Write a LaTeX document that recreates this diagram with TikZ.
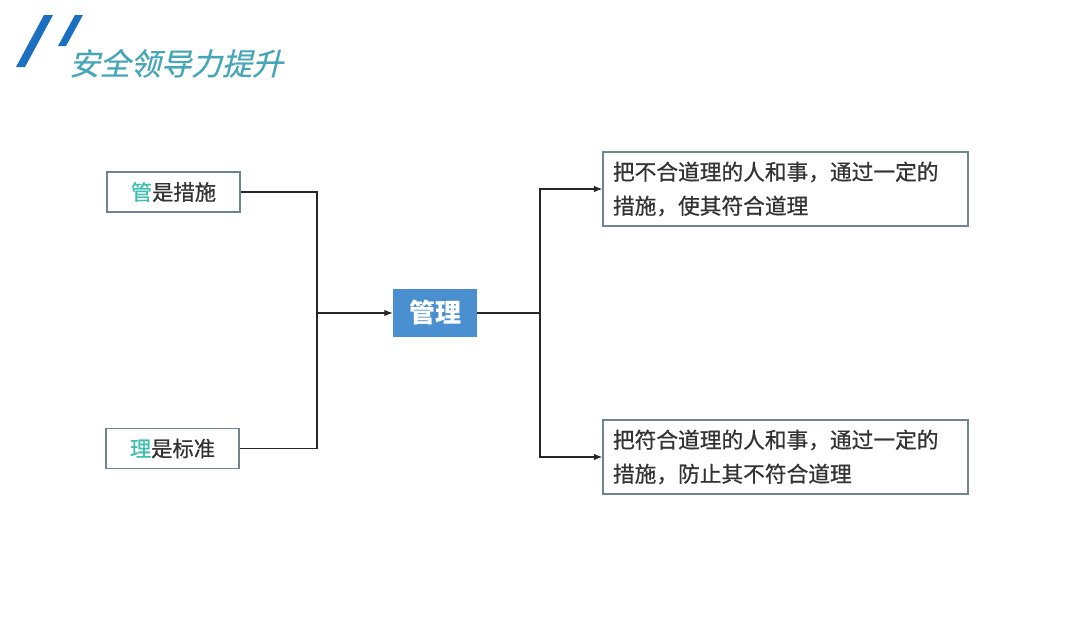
\documentclass[tikz,border=0pt]{standalone}
\usepackage{fontspec}
\setmainfont{Noto Sans CJK SC}
\newfontfamily\medfont[FakeBold=0.7]{Noto Sans CJK SC}
\newfontfamily\titlefont[FakeSlant=0.25,FakeBold=0.5]{Noto Sans CJK SC}
\usetikzlibrary{arrows.meta}
\definecolor{slashblue}{HTML}{1B6FC0}
\definecolor{titleteal}{HTML}{45A6B8}
\definecolor{keyteal}{HTML}{3DBFAE}
\definecolor{textgrey}{HTML}{333333}
\definecolor{framegrey}{HTML}{6F8592}
\definecolor{boxblue}{HTML}{4A8FCF}
\begin{document}
\begin{tikzpicture}[x=1pt,y=-1pt,>={Latex[length=8.5pt,width=6.5pt]},
    keybox/.style={draw=framegrey,line width=1.2pt,fill=white,text=textgrey,
      minimum width=133pt,minimum height=40pt,inner sep=0pt,
      font=\medfont\fontsize{21.3}{24}\selectfont},
    mainbox/.style={fill=boxblue,text=white,minimum width=84pt,minimum height=48pt,
      inner sep=0pt,font=\fontsize{26}{30}\selectfont\bfseries},
    textbox/.style={draw=framegrey,line width=1.2pt,fill=white,text=textgrey,
      minimum width=365pt,minimum height=74pt,inner xsep=10pt,
      text width=345pt,align=left,font=\medfont\fontsize{21.7}{34}\selectfont},
    link/.style={line width=1.2pt,draw=black!85}]
  \useasboundingbox (0,0) rectangle (1080,621);
  % header
  \fill[slashblue] (16,67) -- (25,67) -- (53,15) -- (44,15) -- cycle;
  \fill[slashblue] (58,46) -- (66,46) -- (83,15) -- (75,15) -- cycle;
  \node[anchor=base west,text=titleteal,inner sep=0pt,font=\titlefont\fontsize{30.5}{34}\selectfont]
    (title) at (69,75) {安全领导力提升};
  % left side
  \node[keybox] (guan) at (173.5,192) {\textcolor{keyteal}{管}是措施};
  \node[keybox] (li) at (172.5,448.5) {\textcolor{keyteal}{理}是标准};
  \node[mainbox] (guanli) at (435,313) {管理};
  % right side
  \node[textbox] (buhe) at (785.5,189) {把不合道理的人和事，通过一定的\\措施，使其符合道理};
  \node[textbox] (fuhe) at (785.5,457) {把符合道理的人和事，通过一定的\\措施，防止其不符合道理};
  % connectors
  \coordinate (lj) at (317,313);
  \coordinate (rj) at (540,313);
  \draw[link] (guan.east) -| (lj);
  \draw[link] (li.east) -| (lj);
  \draw[link,->] (lj) -- (guanli.west);
  \draw[link] (guanli.east) -- (rj);
  \draw[link,->] (rj) |- (buhe.west);
  \draw[link,->] (rj) |- (fuhe.west);
\end{tikzpicture}
\end{document}
